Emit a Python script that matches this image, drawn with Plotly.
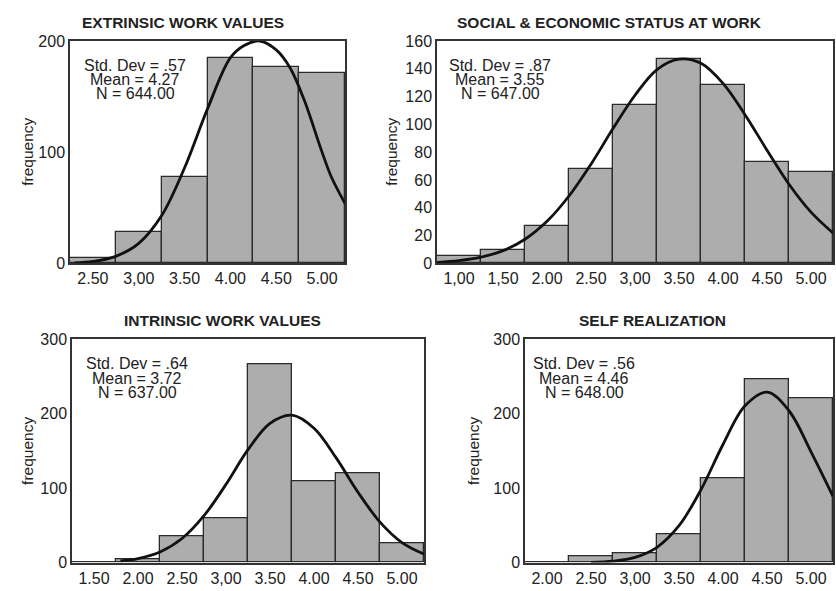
import plotly.graph_objects as go

# ---------------- data ----------------
titles = ["EXTRINSIC WORK VALUES", "SOCIAL & ECONOMIC STATUS AT WORK",
          "INTRINSIC WORK VALUES", "SELF REALIZATION"]

ext_centers = [2.5, 3.0, 3.5, 4.0, 4.5, 5.0]
ext_labels = ["2.50", "3,00", "3.50", "4.00", "4.50", "5.00"]
ext_counts = [5, 28, 78, 185, 177, 171]

soc_centers = [1.0, 1.5, 2.0, 2.5, 3.0, 3.5, 4.0, 4.5, 5.0]
soc_labels = ["1,00", "1,50", "2.00", "2.50", "3,00", "3.50", "4.00", "4.50", "5.00"]
soc_counts = [5, 10, 27, 68, 114, 147, 128, 73, 66]

int_centers = [1.5, 2.0, 2.5, 3.0, 3.5, 4.0, 4.5, 5.0]
int_labels = ["1.50", "2.00", "2.50", "3,00", "3.50", "4.00", "4.50", "5.00"]
int_counts = [1, 5, 36, 59, 267, 109, 120, 26]

self_centers = [2.0, 2.5, 3.0, 3.5, 4.0, 4.5, 5.0]
self_labels = ["2.00", "2.50", "3,00", "3.50", "4.00", "4.50", "5.00"]
self_counts = [1, 8, 12, 38, 113, 246, 221]

stat_sd = [".57", ".87", ".64", ".56"]
stat_mean = ["4.27", "3.55", "3.72", "4.46"]
stat_n = ["644.00", "647.00", "637.00", "648.00"]

# normal-curve overlays, values
ext_curve_x = [2.3, 2.5, 2.75, 3.0, 3.25, 3.5, 3.75, 4.0, 4.15, 4.32, 4.5, 4.65, 4.8, 5.0, 5.1, 5.25]
ext_curve_y = [0.5, 1.8, 6.4, 18, 43, 86, 139, 185, 196, 200, 192, 176, 148, 100, 78, 54]

soc_curve_x = [0.75, 1.0, 1.25, 1.5, 1.75, 2.0, 2.25, 2.5, 2.75, 3.0, 3.25, 3.5, 3.75, 4.0, 4.25, 4.5, 4.75, 5.0, 5.25]
soc_curve_y = [0.8, 2.0, 4.5, 9.2, 17.4, 30.3, 48.5, 71.4, 97, 121, 139.5, 147, 144, 129.5, 107, 81.5, 57, 36.9, 21.9]

int_curve_x = [1.8, 2.0, 2.25, 2.5, 2.75, 3.0, 3.25, 3.5, 3.75, 4.0, 4.25, 4.5, 4.75, 5.0, 5.25]
int_curve_y = [2.2, 5.4, 14.2, 32.3, 63, 105, 151.6, 187, 198, 180.4, 140.9, 94.4, 54.4, 26.9, 11.4]

self_curve_x = [2.5, 2.75, 3.0, 3.25, 3.5, 3.75, 4.0, 4.25, 4.5, 4.75, 5.0, 5.25]
self_curve_y = [0.4, 1.9, 7.0, 20.5, 49.5, 97.9, 158.6, 210.5, 228.9, 203.9, 148.8, 89.0]

x_ranges = [[2.25, 5.25], [0.75, 5.25], [1.25, 5.25], [1.75, 5.25]]
y_ranges = [[0, 200], [0, 160], [0, 300], [0, 300]]
y_ticks = [[0, 100, 200], [0, 20, 40, 60, 80, 100, 120, 140, 160], [0, 100, 200, 300], [0, 100, 200, 300]]

# ---------------- layout geometry (pixels) ----------------
W, H = 836, 591
boxes = [(70, 345, 34, 263), (437, 833, 34, 263), (72, 424, 341, 571), (525, 833, 341, 571)]
title_pos = [(183, 15), (609, 15), (222, 321.5), (652, 321.5)]
stat_pos = [(135, 59), (500, 59), (137, 366.5), (584, 366.5)]
ylab_pos = [(28, 148), (392, 148), (28, 456), (474, 456)]

def px(x):
    return x / W

def py(y):
    return 1 - y / H

FONT = "Arial, Liberation Sans, sans-serif"
TXT = "#222222"
BAR = "#adadad"
EDGE = "#2b2b2b"

fig = go.Figure()

panels = [
    (ext_centers, ext_labels, ext_counts, ext_curve_x, ext_curve_y),
    (soc_centers, soc_labels, soc_counts, soc_curve_x, soc_curve_y),
    (int_centers, int_labels, int_counts, int_curve_x, int_curve_y),
    (self_centers, self_labels, self_counts, self_curve_x, self_curve_y),
]

annotations = []
for i, (cent, labs, cnts, cx, cy) in enumerate(panels):
    k = "" if i == 0 else str(i + 1)
    xa, ya = "x" + k, "y" + k
    fig.add_trace(go.Bar(x=cent, y=cnts, width=0.5, xaxis=xa, yaxis=ya,
                         marker=dict(color=BAR, line=dict(color=EDGE, width=1.3)),
                         showlegend=False, hoverinfo="x+y"))
    fig.add_trace(go.Scatter(x=cx, y=cy, mode="lines", xaxis=xa, yaxis=ya,
                             line=dict(color="#111111", width=2.8, shape="spline", smoothing=1.0),
                             showlegend=False, hoverinfo="skip"))
    x0, x1, y0, y1 = boxes[i]
    fig.update_layout(**{
        "xaxis" + k: dict(domain=[px(x0), px(x1)], range=x_ranges[i], anchor=ya,
                          tickmode="array", tickvals=cent, ticktext=labs,
                          showgrid=False, zeroline=False, ticks="",
                          showline=True, mirror=True, linecolor="#333333", linewidth=1.5,
                          tickfont=dict(family=FONT, size=16, color=TXT), fixedrange=True),
        "yaxis" + k: dict(domain=[py(y1), py(y0)], range=y_ranges[i], anchor=xa,
                          tickmode="array", tickvals=y_ticks[i],
                          showgrid=False, zeroline=False, ticks="",
                          showline=True, mirror=True, linecolor="#333333", linewidth=1.5,
                          tickfont=dict(family=FONT, size=16, color=TXT), fixedrange=True),
    })
    tx, ty = title_pos[i]
    annotations.append(dict(text="<b>" + titles[i].replace("&", "&amp;") + "</b>", x=px(tx), y=py(ty),
                            xref="paper", yref="paper", showarrow=False,
                            xanchor="center", yanchor="middle",
                            font=dict(family=FONT, size=15.5, color=TXT)))
    sx, sy = stat_pos[i]
    lines = ["Std. Dev = " + stat_sd[i], "Mean = " + stat_mean[i], "N = " + stat_n[i]]
    for j, t in enumerate(lines):
        annotations.append(dict(text=t, x=px(sx), y=py(sy + 14.7 * j), xref="paper", yref="paper",
                                showarrow=False, xanchor="center", yanchor="middle",
                                font=dict(family=FONT, size=16, color=TXT)))
    lx, ly = ylab_pos[i]
    annotations.append(dict(text="frequency", x=px(lx), y=py(ly), xref="paper", yref="paper",
                            showarrow=False, xanchor="center", yanchor="middle", textangle=-90,
                            font=dict(family=FONT, size=15.5, color=TXT)))

fig.update_layout(width=W, height=H, margin=dict(l=0, r=0, t=0, b=0),
                  paper_bgcolor="white", plot_bgcolor="white",
                  bargap=0, annotations=annotations, showlegend=False)

fig.write_html("out.html", config={"displayModeBar": False},
               post_script="document.body.style.margin='0';document.body.style.overflow='hidden';")
